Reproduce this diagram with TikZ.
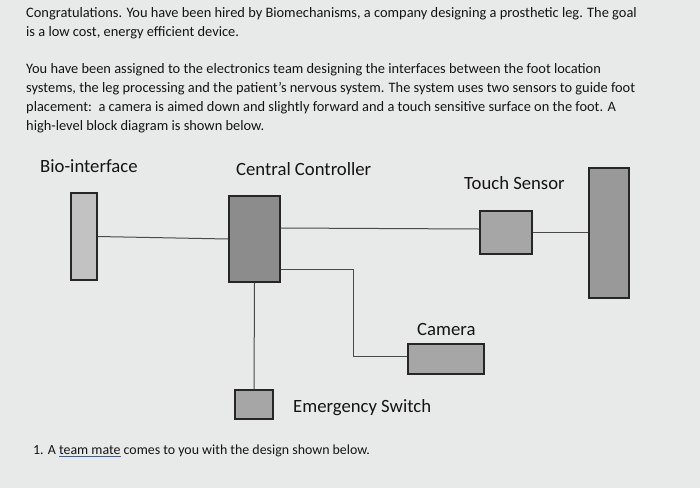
\documentclass[tikz,border=0pt]{standalone}
\usepackage{fontspec}
\setmainfont{Carlito}
\usetikzlibrary{positioning}

\definecolor{paper}{HTML}{E8E9E9}
\definecolor{ink}{HTML}{141414}
\definecolor{wiregray}{HTML}{4A4A4A}
\definecolor{markblue}{HTML}{3A5FB0}
\definecolor{bioFill}{HTML}{C2C2C2}
\definecolor{ctrlFill}{HTML}{8C8C8C}
\definecolor{partFill}{HTML}{A6A6A6}

% blue spell-check underline
\newcommand{\bluemark}[1]{\setbox0\hbox{#1}\rlap{\color{markblue}\rule[-2.6pt]{\wd0}{0.9pt}}\box0\relax}

\begin{document}
\begin{tikzpicture}[x=1pt, y=-1pt, every node/.style={text=ink, inner sep=0pt},
  block/.style={draw=black!85, line width=1.4pt, inner sep=0pt},
  wire/.style={draw=wiregray, line width=1pt},
  tag/.style={font=\fontsize{18.7}{22}\selectfont, anchor=base west},
  para/.style={font=\fontsize{14.4}{19}\selectfont, align=left, anchor=north west}]

  % page
  \fill[paper] (0,0) rectangle (700,488);
  \useasboundingbox (0,0) rectangle (700,488);

  % text above the diagram
  \node[para] (intro) at (26,7) {Congratulations. You have been hired by Biomechanisms, a company designing a prosthetic leg. The goal\\
    is a low cost, energy efficient device.};
  \node[para] (task) at (26,63) {You have been assigned to the electronics team designing the interfaces between the foot location\\
    systems, the leg processing and the patient's nervous system. The system uses two sensors to guide foot\\
    placement:\ \ a camera is aimed down and slightly forward and a touch sensitive surface on the foot. A\\
    high-level block diagram is shown below.};

  % blocks
  \node[block, fill=bioFill, minimum width=26pt, minimum height=87pt] (bio) at (84,236.5) {};
  \node[block, fill=ctrlFill, minimum width=51pt, minimum height=86pt] (ctrl) at (254.5,239) {};
  \node[block, fill=partFill, minimum width=52pt, minimum height=43pt] (touch) at (506,232.5) {};
  \node[block, fill=partFill!92!black, minimum width=40pt, minimum height=130pt] (foot) at (609,233) {};
  \node[block, fill=partFill, minimum width=38pt, minimum height=29pt] (switch) at (254,404.5) {};
  \node[block, fill=partFill, minimum width=76pt, minimum height=30pt] (cam) at (446,359) {};

  % labels
  \node[tag] (biolbl) at (40,172) {Bio-interface};
  \node[tag] (ctrllbl) at (236,175) {Central Controller};
  \node[tag] (touchlbl) at (464,189) {Touch Sensor};
  \node[tag] (camlbl) at (417,335) {Camera};
  \node[tag] (switchlbl) at (293,412) {Emergency Switch};

  % connections
  \draw[wire] (bio.east) -- (ctrl.west);
  \draw[wire] ([yshift=11pt]ctrl.east) -- ([yshift=3.5pt]touch.west);
  \draw[wire] (touch.east) -- (touch.east -| foot.west);
  \draw[wire] ([yshift=-30pt]ctrl.east) -- (353,269) |- ([yshift=3pt]cam.west);
  \draw[wire] (ctrl.south) -- (switch.north);

  % question below
  \node[font=\fontsize{13.9}{17}\selectfont, anchor=base west] (question) at (33,454)
    {1. A \bluemark{team mate} comes to you with the design shown below.};
\end{tikzpicture}
\end{document}
